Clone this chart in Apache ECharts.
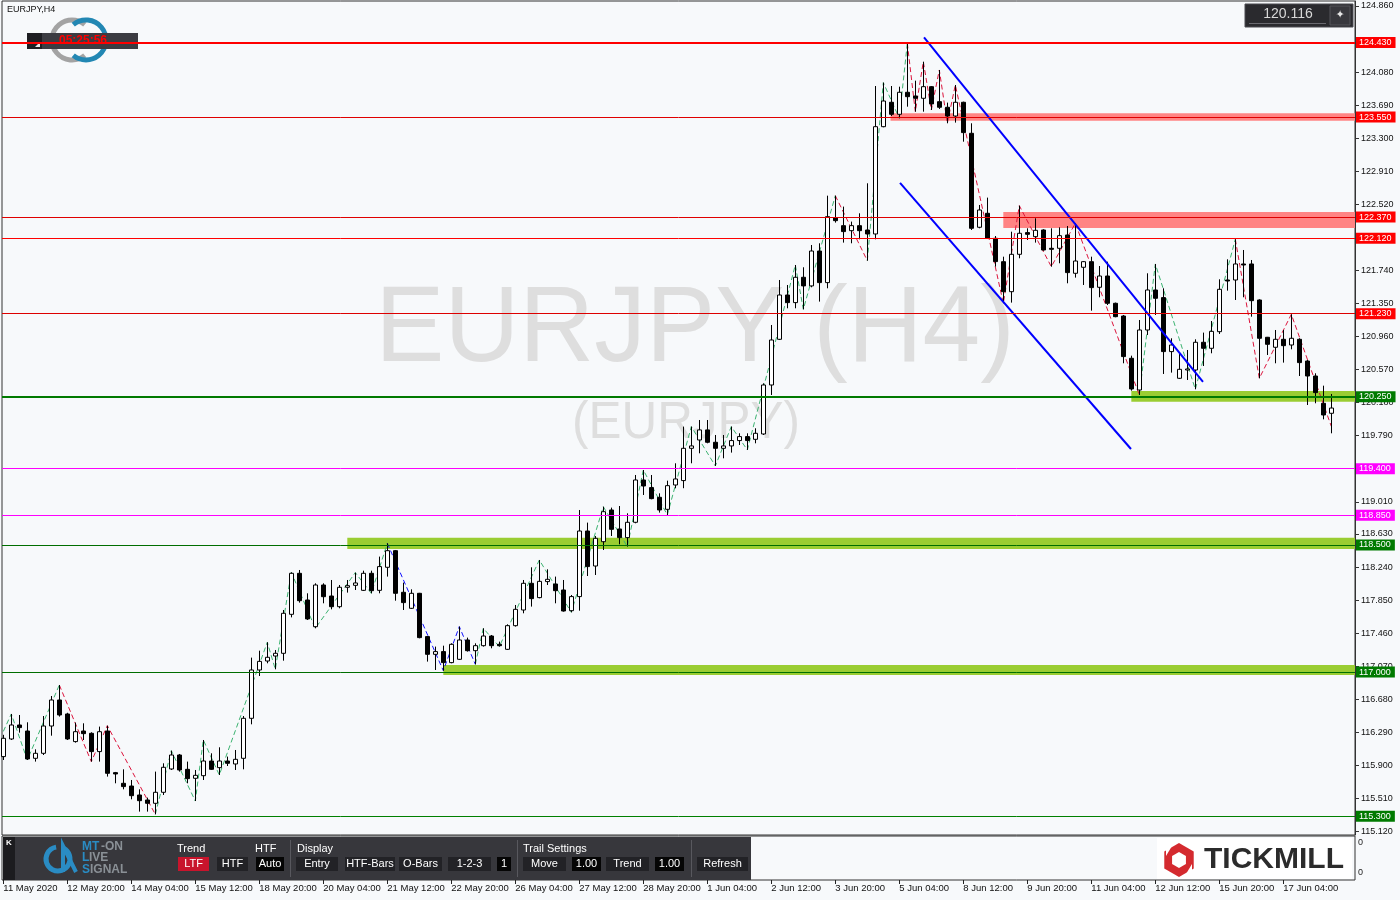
<!DOCTYPE html>
<html><head><meta charset="utf-8">
<script src="https://cdn.jsdelivr.net/npm/echarts@6/dist/echarts.min.js"></script>
<style>html,body{margin:0;padding:0;background:#f7f9fb;}#c{width:1400px;height:900px;}</style>
</head><body><div id="c"></div>
<script>
// ---------------- DATA ----------------
const symbolTitle = 'EURJPY,H4';
const lastPrice = 120.116;
const tradingDays = ['11 May','12 May','13 May','14 May','15 May','18 May','19 May','20 May','21 May','22 May','25 May','26 May','27 May','28 May','29 May','1 Jun','2 Jun','3 Jun','4 Jun','5 Jun','8 Jun','9 Jun','10 Jun','11 Jun','12 Jun','15 Jun','16 Jun','17 Jun','18 Jun'];
const sessionHours = ['00:00','04:00','08:00','12:00','16:00','20:00'];
const firstBarTime = '11 May 12:00';

const openPrices = [116.003,116.211,116.376,116.305,115.983,116.042,116.364,116.671,116.506,116.180,116.305,116.278,116.062,116.305,115.814,115.688,115.656,115.550,115.491,115.452,115.582,115.857,116.022,115.853,115.747,115.778,115.951,115.873,115.951,115.916,115.983,116.455,117.025,117.131,117.190,117.222,117.682,118.166,117.851,117.536,118.028,117.898,117.772,118.001,118.024,117.965,118.166,117.965,118.237,118.433,117.942,117.753,117.930,117.419,117.210,117.242,117.112,117.151,117.379,117.253,117.312,117.426,117.328,117.269,117.548,117.733,118.048,117.879,118.068,118.040,117.969,117.725,117.891,118.665,118.252,118.539,118.913,118.689,118.587,118.768,119.267,119.177,119.063,118.921,119.208,119.260,119.641,119.739,119.858,119.712,119.641,119.669,119.732,119.779,119.747,119.810,120.388,120.927,121.450,121.360,121.659,121.557,121.969,121.596,122.363,122.268,122.209,122.268,122.217,122.170,123.436,123.724,123.582,123.842,123.798,123.771,123.908,123.731,123.665,123.562,123.724,123.358,122.249,122.414,122.119,121.843,121.489,121.930,122.186,122.138,122.217,122.001,122.001,122.158,121.706,121.777,121.843,121.541,121.674,121.352,121.202,120.703,120.329,121.037,121.509,121.419,120.782,120.467,120.565,120.565,120.892,120.821,121.017,121.627,121.627,121.816,121.816,121.391,120.951,120.833,120.927,120.860,120.927,120.671,120.494,120.172,120.054];
const closePrices = [116.219,116.376,116.345,115.975,116.042,116.364,116.671,116.494,116.211,116.297,116.274,116.062,116.297,115.806,115.798,115.649,115.542,115.483,115.452,115.582,115.877,116.022,115.845,115.743,115.782,115.951,115.853,115.951,115.924,115.971,116.455,117.025,117.127,117.175,117.222,117.694,118.166,117.843,117.627,118.028,117.890,117.772,118.001,118.020,118.052,118.166,117.961,118.245,118.433,117.930,117.820,117.930,117.407,117.210,117.242,117.112,117.328,117.379,117.253,117.312,117.426,117.312,117.312,117.548,117.741,118.048,117.867,118.071,118.095,117.961,117.721,117.891,118.665,118.245,118.579,118.893,118.685,118.587,118.768,119.267,119.196,119.047,118.913,119.200,119.279,119.641,119.669,119.858,119.712,119.641,119.669,119.732,119.779,119.732,119.818,120.388,120.919,121.450,121.360,121.659,121.557,121.969,121.596,122.374,122.327,122.198,122.268,122.209,122.170,123.436,123.739,123.582,123.842,123.790,123.771,123.908,123.704,123.665,123.562,123.724,123.366,122.237,122.453,122.119,121.844,121.489,121.930,122.178,122.166,122.213,121.981,121.989,122.150,121.714,121.851,121.843,121.537,121.674,121.352,121.194,120.723,120.341,121.037,121.509,121.411,120.782,120.860,120.573,120.577,120.892,120.821,121.021,121.517,121.615,121.816,121.804,121.383,120.939,120.868,120.927,120.852,120.939,120.652,120.494,120.298,120.034,120.116];
const lowPrices = [115.963,116.199,116.286,115.963,115.944,116.022,116.250,116.475,116.199,116.168,116.199,115.944,115.944,115.767,115.688,115.617,115.499,115.354,115.354,115.322,115.550,115.845,115.826,115.688,115.479,115.727,115.845,115.786,115.892,115.845,115.853,116.384,116.954,117.104,117.033,117.135,117.646,117.820,117.615,117.517,117.812,117.741,117.753,117.938,117.969,117.957,117.930,117.930,118.127,117.843,117.733,117.745,117.399,117.124,117.025,117.017,117.104,117.143,117.242,117.092,117.301,117.281,117.301,117.261,117.537,117.694,117.773,117.871,118.028,117.812,117.714,117.706,117.725,118.134,118.146,118.441,118.606,118.508,118.481,118.756,119.090,119.039,118.882,118.854,119.169,119.170,119.464,119.582,119.700,119.433,119.523,119.590,119.680,119.622,119.700,119.798,120.270,120.919,121.293,121.293,121.281,121.541,121.372,121.529,122.304,122.068,122.060,122.107,121.855,122.107,123.429,123.562,123.535,123.672,123.613,123.613,123.633,123.645,123.476,123.484,123.259,122.217,122.237,122.119,121.785,121.352,121.360,121.883,122.099,122.068,121.973,121.784,121.824,121.588,121.655,121.568,121.265,121.423,121.332,121.187,120.644,120.321,120.270,120.978,121.214,120.518,120.534,120.459,120.447,120.337,120.612,120.762,120.990,121.501,121.391,121.423,121.194,120.467,120.742,120.644,120.652,120.809,120.494,120.152,120.172,119.983,119.818];
const highPrices = [116.260,116.506,116.494,116.408,116.089,116.482,116.718,116.848,116.520,116.404,116.396,116.290,116.357,116.368,115.822,115.853,115.727,115.617,115.519,115.826,115.924,116.073,116.034,115.944,115.845,116.199,116.042,116.113,116.003,116.081,116.482,117.171,117.253,117.352,117.261,117.733,118.177,118.205,117.930,118.048,118.048,118.087,118.028,118.087,118.174,118.197,118.197,118.363,118.520,118.441,118.056,117.977,117.935,117.426,117.301,117.312,117.340,117.537,117.407,117.340,117.517,117.438,117.360,117.564,117.792,118.087,118.237,118.323,118.213,118.127,118.087,117.910,118.913,118.764,118.606,118.952,118.941,118.960,118.874,119.326,119.385,119.326,119.110,119.259,119.464,119.897,119.897,119.975,119.975,119.798,119.798,119.897,119.818,119.818,119.877,120.408,121.096,121.627,121.568,121.804,121.777,122.040,122.060,122.622,122.622,122.493,122.316,122.414,122.768,123.916,123.956,123.916,123.908,124.420,123.979,124.203,123.916,124.105,123.720,123.928,123.731,123.476,122.512,122.599,122.146,121.902,122.197,122.504,122.237,122.355,122.225,122.237,122.248,122.264,122.296,121.850,121.902,121.792,121.843,121.360,121.214,120.734,121.155,121.706,121.816,121.529,120.939,120.762,120.801,120.927,121.006,121.143,121.635,121.871,122.107,121.981,121.863,121.399,120.955,121.037,121.037,121.222,120.939,120.683,120.526,120.380,120.282];

// zigzag pivots (bar index, price, trend of the leg ending at the pivot)
const zigzagBars   = [0,1,3,7,11,13,19,21,24,25,27,33,34,36,39,44,46,48,55,57,59,60,62,67,71,75,78,80,83,86,89,91,93,99,100,104,108,110,112,113,114,115,116,117,118,119,125,127,131,134,142,144,149,154,157,161,166];
const zigzagPrices = [116.30,116.506,115.963,116.848,115.944,116.368,115.322,116.073,115.479,116.199,115.786,117.352,117.033,118.177,117.517,118.174,117.930,118.520,117.017,117.537,117.092,117.517,117.301,118.323,117.706,118.952,118.481,119.385,118.854,119.897,119.433,119.897,119.622,121.804,121.281,122.622,121.855,123.956,123.535,124.420,123.613,124.203,123.633,124.105,123.476,123.928,121.352,122.504,121.784,122.296,120.270,121.816,120.337,122.107,120.467,121.222,119.900];
const zigzagTrend  = ['','up','up','up','down','down','down','up','up','up','up','up','up','up','up','up','up','up','flat','flat','flat','up','up','up','up','up','up','up','up','up','up','up','up','up','up','up','down','up','up','up','down','down','down','down','down','down','down','down','down','down','down','up','up','up','down','down','down'];

// channel trend lines: [bar, price] start and end
const channelUpper = [[115.09, 124.490], [149.96, 120.424]];
const channelLower = [[112.09, 122.772], [140.96, 119.633]];

// horizontal levels
const levelPrices = [124.430, 123.550, 122.370, 122.120, 121.230, 120.250, 119.400, 118.850, 118.500, 117.000, 115.300];
// zones: [start bar, low, high]
const zoneStarts = [110.9, 125.0, 141.0, 43.0, 55.0];
const zoneLows   = [123.507, 122.241, 120.191, 118.453, 116.966];
const zoneHighs  = [123.594, 122.429, 120.317, 118.586, 117.084];

// axis tick labels
const xTickLabels = ['11 May 2020','12 May 20:00','14 May 04:00','15 May 12:00','18 May 20:00','20 May 04:00','21 May 12:00','22 May 20:00','26 May 04:00','27 May 12:00','28 May 20:00','1 Jun 04:00','2 Jun 12:00','3 Jun 20:00','5 Jun 04:00','8 Jun 12:00','9 Jun 20:00','11 Jun 04:00','12 Jun 12:00','15 Jun 20:00','17 Jun 04:00'];
const yTickLabels = [124.860,124.080,123.690,123.300,122.910,122.520,121.740,121.350,120.960,120.570,120.180,119.790,119.010,118.630,118.240,117.850,117.460,117.070,116.680,116.290,115.900,115.510,115.120];
const yTickMarks  = [124.860,124.470,124.080,123.690,123.300,122.910,122.520,122.130,121.740,121.350,120.960,120.570,120.180,119.790,119.400,119.010,118.630,118.240,117.850,117.460,117.070,116.680,116.290,115.900,115.510,115.120];

// ---------------- STYLES ----------------
const FONT = '"Liberation Sans", Arial, sans-serif';
const levelStyles = [
  {c:'#ff0000', w:2, bg:'#ff0000'},
  {c:'#e00000', w:1, bg:'#ff0000'},
  {c:'#e00000', w:1, bg:'#ff0000'},
  {c:'#ff0000', w:1, bg:'#ff0000'},
  {c:'#dd0000', w:1, bg:'#ff0000'},
  {c:'#007a00', w:2, bg:'#007a00'},
  {c:'#ff00ff', w:1, bg:'#ff00ff'},
  {c:'#ff00ff', w:1, bg:'#ff00ff'},
  {c:'#006e00', w:1, bg:'#007a00'},
  {c:'#006e00', w:1, bg:'#007a00'},
  {c:'#008000', w:1, bg:'#007a00'}
];
const zoneColors = ['#ff8484', '#ff8484', '#9acd32', '#9acd32', '#9acd32'];
const trendColors = {up:'#3cb371', down:'#dc143c', flat:'#1010ff'};

// ---------------- BUILD ----------------
const categories = [];
tradingDays.forEach(d => sessionHours.forEach(h => categories.push(d + ' ' + h)));
const startIdx = categories.indexOf(firstBarTime);
const barTimes = categories.slice(startIdx, startIdx + openPrices.length);
const xTickIndex = xTickLabels.map((l, k) => k === 0 ? 0 : barTimes.indexOf(l));
const xLabelMap = {};
xTickIndex.forEach((v, k) => { xLabelMap[v] = xTickLabels[k]; });

const candleData = openPrices.map((o, i) => [i, o, closePrices[i], lowPrices[i], highPrices[i]]);

const X_MIN = -0.1625, X_MAX = 168.96;
const Y_MIN = 115.078, Y_MAX = 124.919;

// zigzag series grouped by trend colour
const zigzagSeries = [];
let run = null;
for (let k = 1; k < zigzagBars.length; k++) {
  const t = zigzagTrend[k];
  if (!run || run.t !== t) {
    run = {t, pts: [[zigzagBars[k-1], zigzagPrices[k-1]]]};
    zigzagSeries.push(run);
  }
  run.pts.push([zigzagBars[k], zigzagPrices[k]]);
}

const series = [];
// zones
series.push({
  type: 'custom', xAxisIndex: 0, yAxisIndex: 0, z: 1, silent: true, clip: true, animation: false,
  data: zoneStarts.map((s, k) => [s, zoneLows[k], zoneHighs[k], k]),
  renderItem: (params, api) => {
    const top = api.coord([api.value(0), api.value(2)]);
    const bot = api.coord([api.value(0), api.value(1)]);
    const right = params.coordSys.x + params.coordSys.width;
    return {type: 'rect', shape: {x: top[0], y: top[1], width: right - top[0], height: bot[1] - top[1]},
            style: {fill: zoneColors[api.value(3)]}};
  }
});
// zigzag
zigzagSeries.forEach(r => series.push({
  type: 'line', xAxisIndex: 0, yAxisIndex: 0, data: r.pts, symbol: 'none', silent: true, z: 1, animation: false,
  lineStyle: {color: trendColors[r.t], width: 1, type: [5, 3]}
}));
// candles
series.push({
  type: 'candlestick', xAxisIndex: 0, yAxisIndex: 0, data: candleData, barWidth: 4, z: 2, animation: false, silent: true,
  itemStyle: {color: '#ffffff', color0: '#000000', borderColor: '#000000', borderColor0: '#000000', borderWidth: 1}
});
// channel
[channelUpper, channelLower].forEach(ch => series.push({
  type: 'line', xAxisIndex: 0, yAxisIndex: 0, data: ch, symbol: 'none', silent: true, z: 3, animation: false,
  lineStyle: {color: '#0000ff', width: 2}
}));
// levels
series.push({
  type: 'line', xAxisIndex: 0, yAxisIndex: 0, data: [], z: 4, silent: true, animation: false,
  markLine: {
    symbol: ['none', 'none'], silent: true, animation: false,
    data: levelPrices.map((p, k) => ({
      yAxis: p,
      lineStyle: {color: levelStyles[k].c, width: levelStyles[k].w, type: 'solid'},
      label: {show: true, position: 'end', distance: 1, formatter: p.toFixed(3), color: '#ffffff',
              backgroundColor: levelStyles[k].bg, padding: [1, 4, 0, 3], fontSize: 9, fontFamily: FONT, lineHeight: 10}
    }))
  }
});

// ---------------- GRAPHICS ----------------
const G = [];
function rect(x, y, w, h, fill, z, extra) { G.push(Object.assign({type: 'rect', shape: {x, y, width: w, height: h}, style: {fill}, z: z || 100, silent: true}, extra || {})); }
function text(x, y, t, opt, z) {
  G.push({type: 'text', x, y, z: z || 101, silent: true,
    style: Object.assign({text: t, fill: '#ffffff', font: '11px ' + FONT, align: 'left', verticalAlign: 'middle'}, opt || {})});
}
// watermark
G.push({type: 'text', x: 695, y: 331, z: 0, silent: true, scaleX: 0.96, originX: 0, originY: 0,
  style: {text: 'EURJPY (H4)', fill: '#dedede', font: '108px ' + FONT, align: 'center', verticalAlign: 'middle'}});
G.push({type: 'text', x: 686, y: 424, z: 0, silent: true, scaleX: 0.95, originX: 0, originY: 0,
  style: {text: '(EURJPY)', fill: '#dedede', font: '52px ' + FONT, align: 'center', verticalAlign: 'middle'}});
// title
text(7, 10, symbolTitle, {fill: '#111111', font: '9px ' + FONT}, 5);
// logo rings + timer box
G.push({type: 'arc', z: 1, silent: true, shape: {cx: 72, cy: 40, r: 20, startAngle: Math.PI * 0.28, endAngle: Math.PI * 1.72, clockwise: true},
  style: {stroke: '#a3a3a3', lineWidth: 5, fill: null}});
G.push({type: 'arc', z: 1, silent: true, shape: {cx: 86, cy: 40, r: 20, startAngle: -Math.PI * 0.72, endAngle: Math.PI * 0.72, clockwise: true},
  style: {stroke: '#2287b3', lineWidth: 5, fill: null}});
rect(27, 33, 111, 16, '#3c3c42', 2);
rect(27, 33, 15, 16, '#1e1e22', 2);
G.push({type: 'polygon', z: 2, silent: true, shape: {points: [[35, 47], [40, 47], [40, 42]]}, style: {fill: '#e8e8e8'}});
text(83, 41, '05:25:56', {fill: '#ff0000', font: 'bold 12px ' + FONT, align: 'center'}, 3);
// price box top right
rect(1245, 4, 108, 23, '#2a2a2e', 100, {style: {fill: '#2a2a2e', stroke: '#4a4a50', lineWidth: 1}});
rect(1249, 23, 77, 1, '#6a6a70', 101);
text(1288, 14, lastPrice.toFixed(3), {fill: '#d8d8d8', font: '14px ' + FONT, align: 'center'});
rect(1330, 6, 20, 19, '#38383d', 101, {style: {fill: '#38383d', stroke: '#55555a', lineWidth: 1}});
text(1340, 15, '✦', {fill: '#e6e6e6', font: '11px "DejaVu Sans"', align: 'center'}, 102);

// bottom panel
rect(3, 837, 748, 43, '#37373c');
rect(3, 837, 12, 43, '#1c1c1f', 101);
text(6, 843, 'K', {fill: '#ffffff', font: 'bold 8px ' + FONT}, 102);
G.push({type: 'arc', z: 101, silent: true, shape: {cx: 58, cy: 859, r: 12, startAngle: -Math.PI * 0.35, endAngle: Math.PI * 1.45, clockwise: true},
  style: {stroke: '#2a8cc4', lineWidth: 5, fill: null}});
G.push({type: 'polyline', z: 102, silent: true, shape: {points: [[63, 872], [63, 846], [76, 872]]}, style: {stroke: '#2a8cc4', lineWidth: 4, fill: null}});
text(82, 847, 'MT', {fill: '#2a8cc4', font: 'bold 12px ' + FONT});
text(101, 847, '-ON', {fill: '#8a9096', font: 'bold 12px ' + FONT});
text(82, 858, 'L', {fill: '#2a8cc4', font: 'bold 12px ' + FONT});
text(89, 858, 'IVE', {fill: '#8a9096', font: 'bold 12px ' + FONT});
text(82, 870, 'S', {fill: '#2a8cc4', font: 'bold 12px ' + FONT});
text(90, 870, 'IGNAL', {fill: '#8a9096', font: 'bold 12px ' + FONT});
text(177, 849, 'Trend');
text(255, 849, 'HTF');
text(297, 849, 'Display');
text(523, 849, 'Trail Settings');
[290, 517, 691].forEach(x => rect(x, 840, 1, 37, '#58585e', 101));
const buttons = [
  [178, 31, 'LTF', '#c8142c'], [217, 31, 'HTF', '#222226'], [256, 28, 'Auto', '#050505'],
  [296, 42, 'Entry', '#222226'], [345, 50, 'HTF-Bars', '#222226'], [399, 43, 'O-Bars', '#222226'],
  [448, 43, '1-2-3', '#222226'], [497, 14, '1', '#050505'], [523, 43, 'Move', '#222226'],
  [572, 29, '1.00', '#050505'], [606, 43, 'Trend', '#222226'], [655, 29, '1.00', '#050505'],
  [697, 51, 'Refresh', '#222226']
];
buttons.forEach(b => { rect(b[0], 857, b[1], 14, b[3], 101); text(b[0] + b[1] / 2, 864, b[2], {align: 'center'}, 102); });
// tickmill logo
rect(1157, 838, 195, 41, '#ffffff', 100);
const hex = (cx, cy, r) => [0,1,2,3,4,5].map(k => [cx + r * Math.sin(k * Math.PI / 3), cy - r * Math.cos(k * Math.PI / 3)]);
G.push({type: 'polygon', z: 101, silent: true, shape: {points: hex(1179, 860, 17)}, style: {fill: '#d42a2f'}});
G.push({type: 'polygon', z: 102, silent: true, shape: {points: hex(1179, 860, 8)}, style: {fill: '#ffffff'}});
G.push({type: 'polygon', z: 102, silent: true, shape: {points: [[1166, 846], [1172, 846], [1166, 856]]}, style: {fill: '#ffffff'}});
G.push({type: 'polygon', z: 102, silent: true, shape: {points: [[1192, 874], [1186, 874], [1192, 864]]}, style: {fill: '#ffffff'}});
text(1204, 860, 'TICKMILL', {fill: '#2b2b2b', font: 'bold 30px ' + FONT});
text(1358, 843, '0', {fill: '#1a1a1a', font: '9px ' + FONT}, 101);
text(1358, 873, '0', {fill: '#1a1a1a', font: '9px ' + FONT}, 101);

// ---------------- OPTION ----------------
const option = {
  backgroundColor: '#f7f9fb',
  animation: false,
  grid: [
    {left: 2, right: 45, top: 1, height: 834, show: true, borderColor: '#333333', borderWidth: 1, backgroundColor: 'transparent'},
    {left: 2, right: 45, top: 836, height: 44, show: true, borderColor: '#333333', borderWidth: 1, backgroundColor: 'transparent'}
  ],
  xAxis: [
    {type: 'value', gridIndex: 0, min: X_MIN, max: X_MAX, show: false, axisLine: {onZero: false}},
    {type: 'value', gridIndex: 1, min: X_MIN, max: X_MAX, position: 'bottom',
      axisLine: {show: false, onZero: false}, splitLine: {show: false},
      axisTick: {show: true, customValues: xTickIndex, length: 4, lineStyle: {color: '#222222'}},
      axisLabel: {customValues: xTickIndex, formatter: v => xLabelMap[v] || '', align: 'left', margin: 3,
                  fontSize: 9.5, color: '#111111', fontFamily: FONT}}
  ],
  yAxis: [
    {type: 'value', gridIndex: 0, position: 'right', min: Y_MIN, max: Y_MAX, scale: true,
      axisLine: {show: true, onZero: false, lineStyle: {color: '#333333'}}, splitLine: {show: false},
      axisTick: {show: true, customValues: yTickMarks, length: 4, lineStyle: {color: '#333333'}},
      axisLabel: {customValues: yTickLabels, formatter: v => v.toFixed(3), margin: 6, fontSize: 9, color: '#111111', fontFamily: FONT}},
    {type: 'value', gridIndex: 1, position: 'right', min: 0, max: 1, show: false, axisLine: {onZero: false}}
  ],
  graphic: {elements: G},
  series
};
const chart = echarts.init(document.getElementById('c'), null, {renderer: 'canvas'});
chart.setOption(option);
</script></body></html>
